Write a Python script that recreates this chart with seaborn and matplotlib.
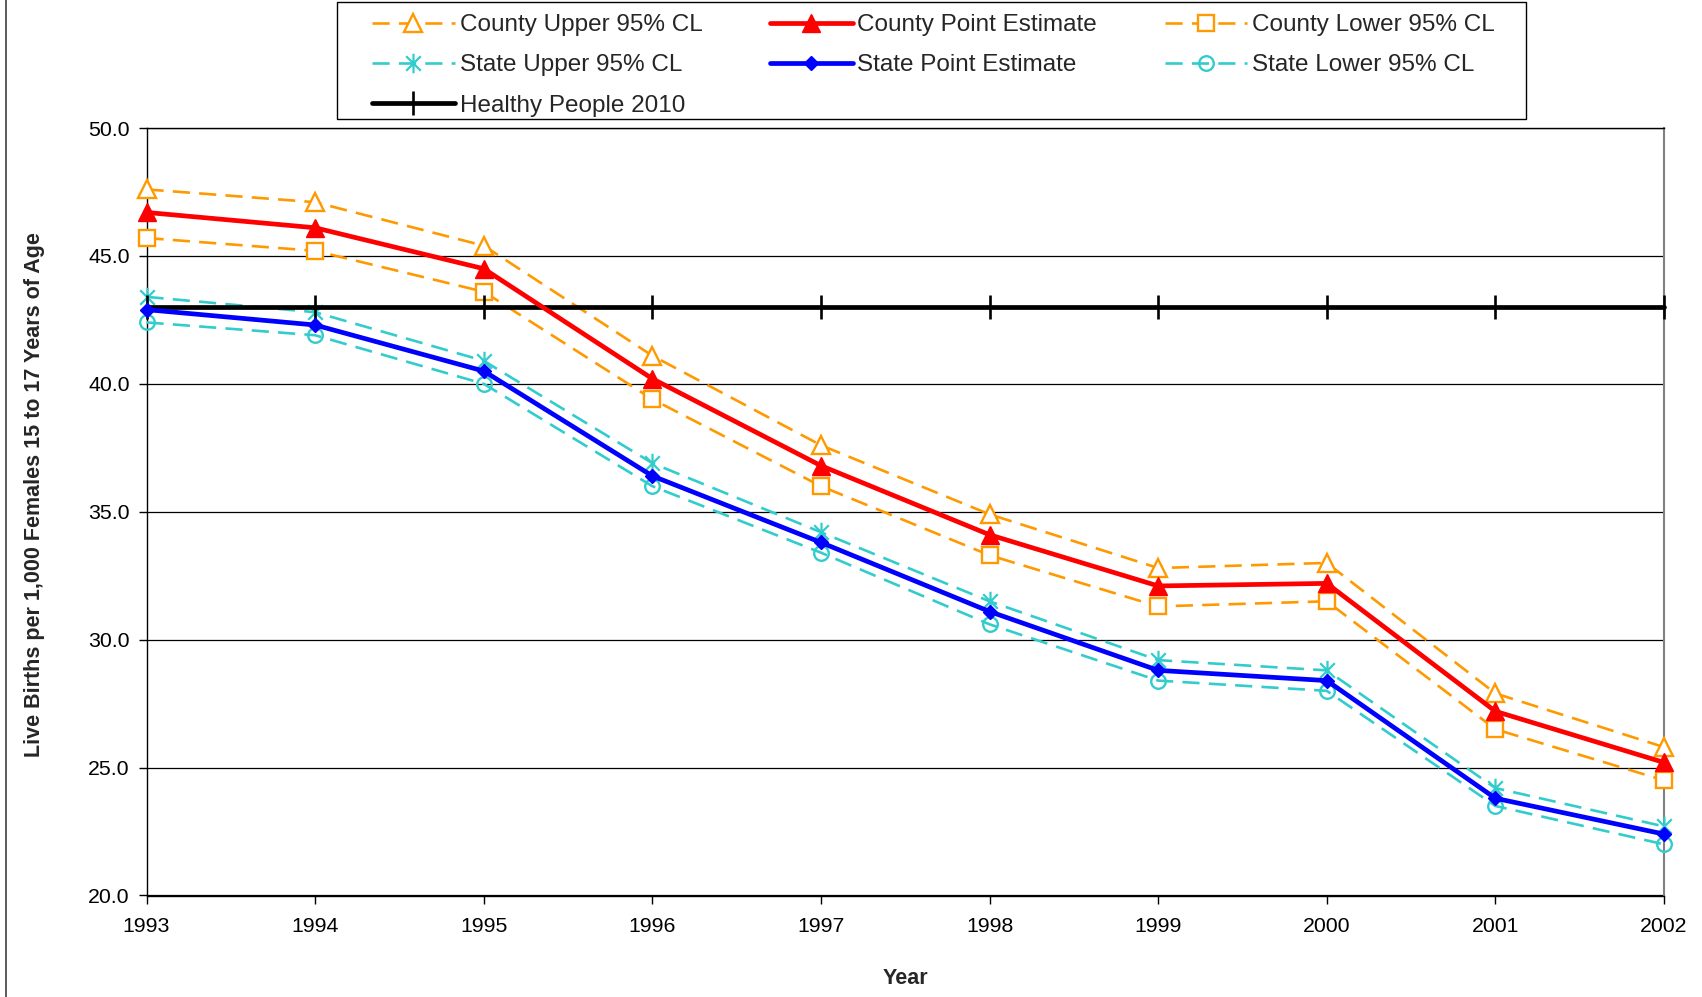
import matplotlib
matplotlib.use("Agg")
import matplotlib.pyplot as plt
import seaborn as sns
import numpy as np
import pandas as pd
from matplotlib.path import Path
from matplotlib.lines import Line2D
from matplotlib.patches import Rectangle
from matplotlib.ticker import FormatStrFormatter

years = [1993, 1994, 1995, 1996, 1997, 1998, 1999, 2000, 2001, 2002]
county_upper = [47.6, 47.1, 45.4, 41.1, 37.6, 34.9, 32.8, 33.0, 27.9, 25.8]
county_point = [46.7, 46.1, 44.5, 40.2, 36.8, 34.1, 32.1, 32.2, 27.2, 25.2]
county_lower = [45.7, 45.2, 43.6, 39.4, 36.0, 33.3, 31.3, 31.5, 26.5, 24.5]
state_upper = [43.4, 42.8, 40.9, 36.9, 34.2, 31.5, 29.2, 28.8, 24.2, 22.7]
state_point = [42.9, 42.3, 40.5, 36.4, 33.8, 31.1, 28.8, 28.4, 23.8, 22.4]
state_lower = [42.4, 41.9, 40.0, 36.0, 33.4, 30.6, 28.4, 28.0, 23.5, 22.0]
healthy_people = [43.0, 43.0, 43.0, 43.0, 43.0, 43.0, 43.0, 43.0, 43.0, 43.0]
year_labels = ["1993", "1994", "1995", "1996", "1997", "1998", "1999", "2000", "2001", "2002"]
y_ticks = [20.0, 25.0, 30.0, 35.0, 40.0, 45.0, 50.0]

sns.set_style("white")
plt.rcParams['font.family'] = ['Liberation Sans', 'DejaVu Sans']

W, H = 1702, 997
fig = plt.figure(figsize=(W / 100, H / 100), dpi=100)
ax = fig.add_axes([146.5 / W, 1 - 895.5 / H, (1664 - 146.5) / W, (895.5 - 128) / H])

orange = '#FF9900'
red = '#FF0000'
blue = '#0000FF'
cyan = '#33CCCC'

ast = Path([(0, -1), (0, 1), (-0.75, -0.75), (0.75, 0.75), (-0.75, 0.75), (0.75, -0.75)],
           [Path.MOVETO, Path.LINETO, Path.MOVETO, Path.LINETO, Path.MOVETO, Path.LINETO])

dash = (0, (6.5, 3.5))
series = [
    ("County Upper 95% CL", county_upper, dict(color=orange, lw=1.9, linestyle=dash, marker='^', ms=12.5, mfc='white', mec=orange, mew=1.7), 3),
    ("County Point Estimate", county_point, dict(color=red, lw=3.4, marker='^', ms=12.5, mfc=red, mec=red, mew=1), 5),
    ("County Lower 95% CL", county_lower, dict(color=orange, lw=1.9, linestyle=dash, marker='s', ms=11, mfc='white', mec=orange, mew=1.7), 3),
    ("State Upper 95% CL", state_upper, dict(color=cyan, lw=1.9, linestyle=dash, marker=ast, ms=14, mfc='none', mec=cyan, mew=1.6), 3),
    ("State Point Estimate", state_point, dict(color=blue, lw=3.4, marker='D', ms=7.5, mfc=blue, mec=blue, mew=1), 5),
    ("State Lower 95% CL", state_lower, dict(color=cyan, lw=1.9, linestyle=dash, marker='o', ms=10.5, mfc='none', mec=cyan, mew=1.7), 3),
    ("Healthy People 2010", healthy_people, dict(color='black', lw=3.4, marker='|', ms=17, mec='black', mew=1.9), 4),
]

handles = {}
for label, vals, kw, z in series:
    df = pd.DataFrame({"Year": years, "Value": vals})
    sns.lineplot(data=df, x="Year", y="Value", ax=ax, label=label, clip_on=False, zorder=z, **kw)
    handles[label] = ax.lines[-1]

if ax.get_legend() is not None:
    ax.get_legend().remove()

ax.set_xlim(1993, 2002)
ax.set_ylim(20, 50)
ax.set_xticks(years)
ax.set_xticklabels(year_labels)
ax.set_yticks(y_ticks)
ax.yaxis.set_major_formatter(FormatStrFormatter('%.1f'))
ax.yaxis.grid(True, color='black', lw=0.9)
ax.set_axisbelow(True)
for s in ax.spines.values():
    s.set_color('black')
    s.set_linewidth(1.0)
ax.spines['right'].set_color('#808080')
ax.spines['right'].set_linewidth(1.5)
ax.tick_params(axis='both', direction='out', length=6, width=1, color='black', labelsize=15.3, labelcolor='black')
ax.tick_params(axis='x', pad=9.2, bottom=True)
ax.tick_params(axis='y', pad=6, left=True)

ax.set_xlabel("Year", fontsize=15.5, fontweight='bold')
ax.xaxis.set_label_coords(0.5, -(968 - 895.5) / 767.5)
ax.set_ylabel("Live Births per 1,000 Females 15 to 17 Years of Age", fontsize=15.5, fontweight='bold')
ax.yaxis.set_label_coords(-(146.5 - 45) / 1517.5, (895.5 - 495) / 767.5)

order = ["County Upper 95% CL", "State Upper 95% CL", "Healthy People 2010",
         "County Point Estimate", "State Point Estimate",
         "County Lower 95% CL", "State Lower 95% CL"]
leg = fig.legend([handles[o] for o in order], order, ncol=3, mode='expand',
                 loc='upper left',
                 bbox_to_anchor=(372 / W, 1 - 14 / H, (1495 - 372) / W, 0.0),
                 frameon=False, borderaxespad=0, borderpad=0, fontsize=17.5,
                 handlelength=3.4, handletextpad=0.2, labelspacing=0.76,
                 columnspacing=2.5)

fig.add_artist(Rectangle((336.5 / W, 1 - 119 / H), (1526 - 336.5) / W, 117 / H,
                         transform=fig.transFigure, fill=False, edgecolor='black', lw=1.0))
fig.add_artist(Line2D([6 / W, 6 / W], [0, 1], transform=fig.transFigure, color='#404040', lw=1.2))

fig.savefig("out.png", dpi=100)
